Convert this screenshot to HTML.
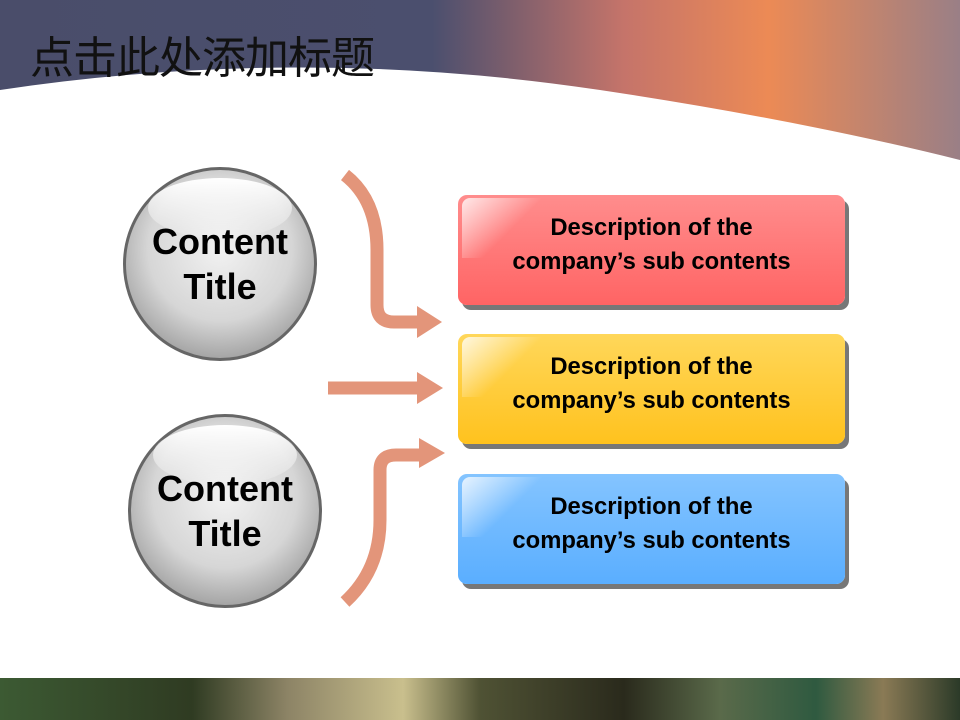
<!DOCTYPE html>
<html><head><meta charset="utf-8"><style>
body{margin:0;width:960px;height:720px;overflow:hidden;position:relative;font-family:"Liberation Sans",Arial,sans-serif;background:#fff}
.t{position:absolute;left:30px;top:22px;font-family:"Liberation Sans","Noto Sans CJK SC",sans-serif;font-size:44px;color:#111;letter-spacing:-1px;white-space:nowrap}
.box{position:absolute;left:458px;width:387px;height:110px;border-radius:9px;box-shadow:4px 5px 0 #777;text-align:center;font-weight:bold;font-size:23.8px;line-height:34px;color:#000;box-sizing:border-box;padding-top:16px;overflow:hidden}
.box:before{content:"";position:absolute;left:4px;top:3px;width:120px;height:60px;border-radius:8px 0 0 0;background:linear-gradient(135deg,rgba(255,255,255,.8),rgba(255,255,255,0) 45%)}
.box span{position:relative}
.c{position:absolute;width:194px;height:194px;border-radius:50%;box-sizing:border-box;border:3px solid #666;background:radial-gradient(circle at 50% 42%,#f2f2f2 0%,#d6d6d6 50%,#8e8e8e 88%,#6a6a6a 100%);text-align:center;font-weight:bold;font-size:36px;line-height:45px;padding-top:49px;color:#000}
.c:before{content:"";position:absolute;left:22px;top:8px;width:144px;height:60px;border-radius:50%;background:linear-gradient(#fff,rgba(255,255,255,.1))}
.c span{position:relative}
</style></head><body>
<svg width="960" height="720" style="position:absolute;left:0;top:0">
<defs>
<linearGradient id="sky" x1="0" y1="0" x2="1" y2="0">
<stop offset="0" stop-color="#4a4d6a"/><stop offset="0.45" stop-color="#4b4f6e"/><stop offset="0.65" stop-color="#c5746a"/><stop offset="0.8" stop-color="#ec8a55"/><stop offset="1" stop-color="#9a7f86"/></linearGradient>
<linearGradient id="land" x1="0" y1="0" x2="1" y2="0">
<stop offset="0" stop-color="#3c5a33"/><stop offset="0.2" stop-color="#2f3b22"/><stop offset="0.3" stop-color="#8d8466"/><stop offset="0.42" stop-color="#c9bf8d"/><stop offset="0.5" stop-color="#4f5234"/><stop offset="0.65" stop-color="#2a2a1c"/><stop offset="0.75" stop-color="#5a6a4a"/><stop offset="0.85" stop-color="#2f5a40"/><stop offset="0.92" stop-color="#8a7a55"/><stop offset="1" stop-color="#2b3a28"/></linearGradient>
</defs>
<rect width="960" height="200" fill="url(#sky)"/>
<path d="M0 90 Q300 45 600 90 Q800 120 960 160 L960 720 L0 720 Z" fill="#fff"/>
<rect y="678" width="960" height="42" fill="url(#land)"/>
<g fill="none" stroke="#e3957a" stroke-width="13">
<path d="M345 175 Q377 200 377 250 L377 305 Q377 322 394 322 L420 322"/>
<path d="M328 388 L420 388"/>
<path d="M345 602 Q380 570 380 520 L380 470 Q380 455 396 455 L422 455"/>
</g>
<g fill="#e3957a">
<path d="M417 306 L442 322 L417 338Z"/>
<path d="M417 372 L443 388 L417 404Z"/>
<path d="M419 438 L445 453 L419 468Z"/>
</g>
</svg>
<div class="t">点击此处添加标题</div>
<div class="c" style="left:123px;top:167px"><span>Content<br>Title</span></div>
<div class="c" style="left:128px;top:414px"><span>Content<br>Title</span></div>
<div class="box" style="top:195px;background:linear-gradient(#ff8d8d,#ff6464)"><span>Description of the<br>company’s sub contents</span></div>
<div class="box" style="top:334px;background:linear-gradient(#ffd75a,#ffc21e)"><span>Description of the<br>company’s sub contents</span></div>
<div class="box" style="top:474px;background:linear-gradient(#84c4ff,#5aaeff)"><span>Description of the<br>company’s sub contents</span></div>
</body></html>
